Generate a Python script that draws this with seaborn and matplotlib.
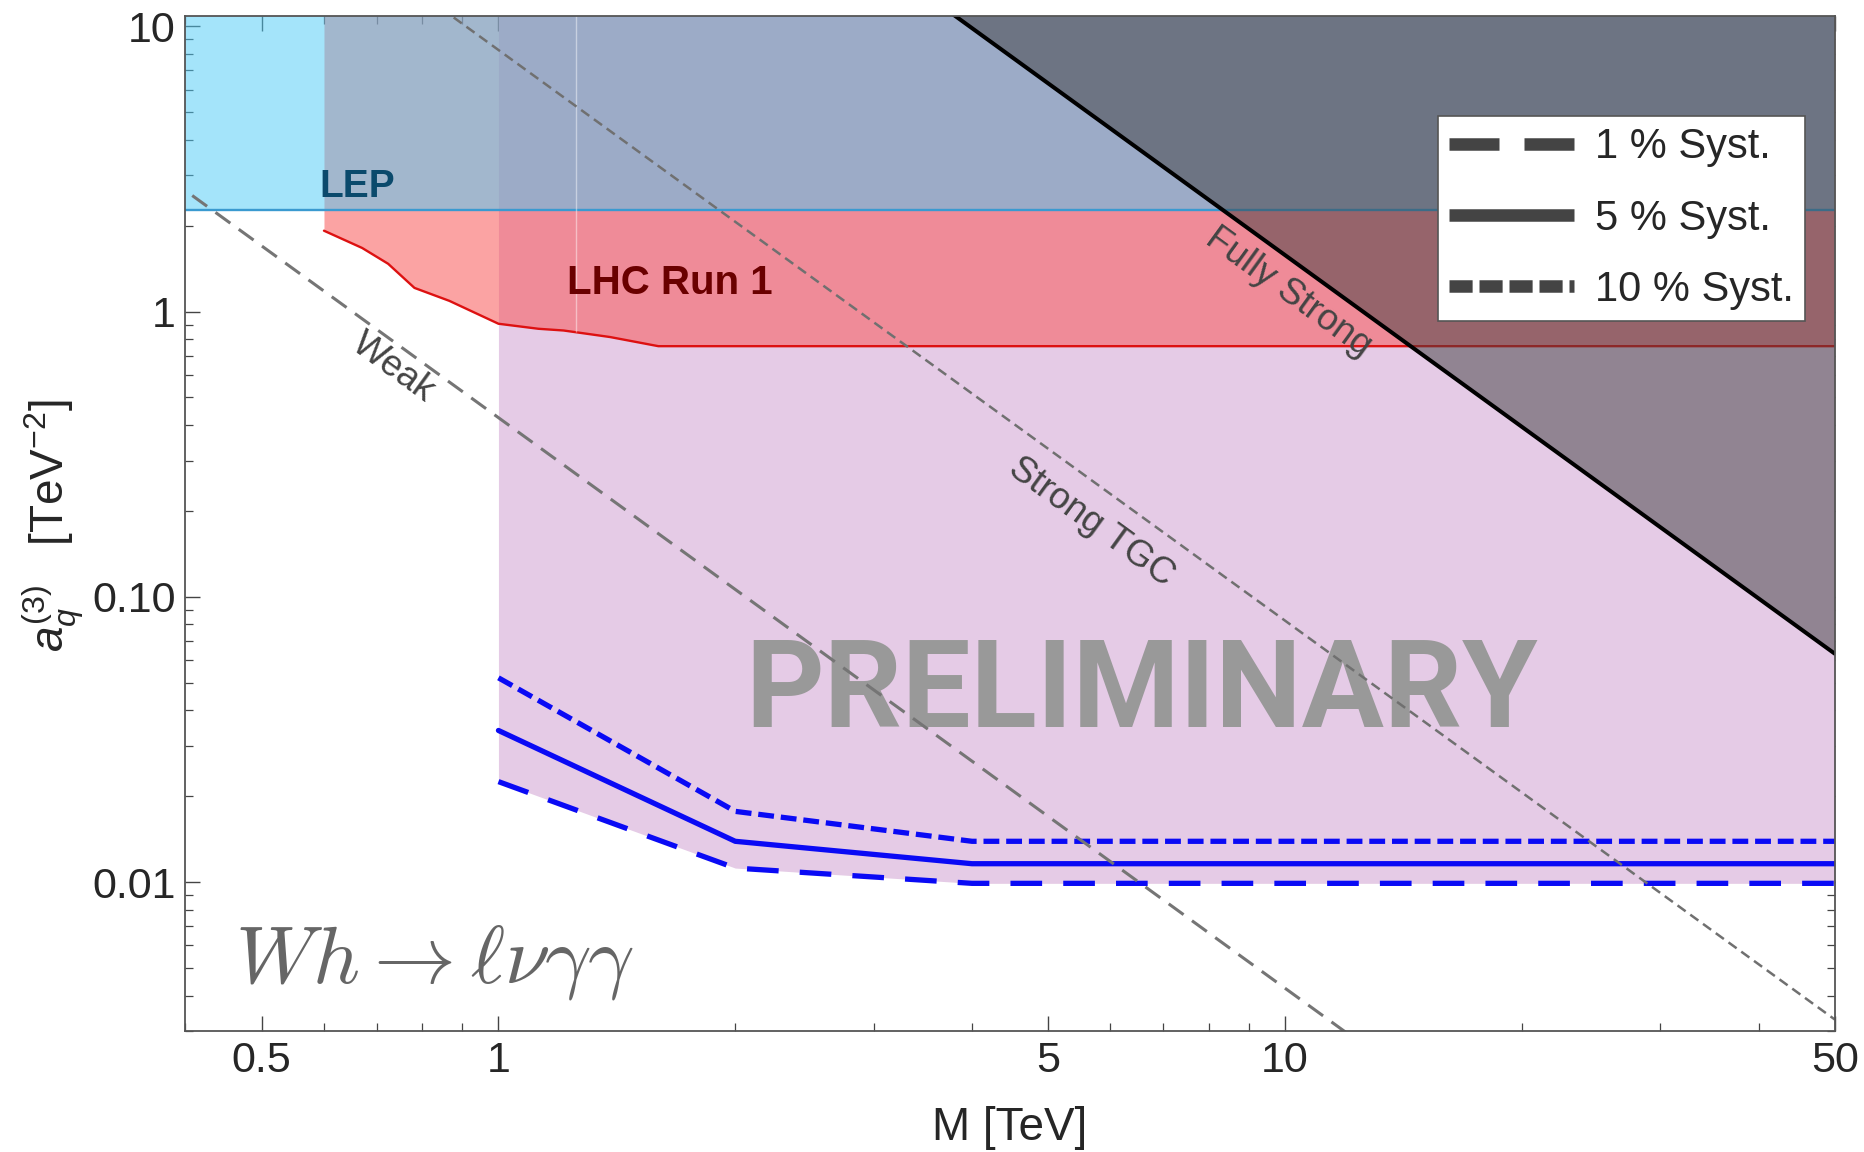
import numpy as np
import pandas as pd
import matplotlib
matplotlib.use("Agg")
import matplotlib.pyplot as plt
import seaborn as sns
from matplotlib.lines import Line2D
from matplotlib.ticker import FixedLocator, FixedFormatter, LogLocator, NullFormatter

# ---------------- data ----------------
x_limits = [0.4, 50]
y_limits = [0.003, 10.9]

x_ticks = [0.5, 1, 5, 10, 50]
x_ticklabels = ["0.5", "1", "5", "10", "50"]
y_ticks = [0.01, 0.1, 1, 10]
y_ticklabels = ["0.01", "0.10", "1", "10"]

# projected bounds (Wh -> l nu gamma gamma)
proj_M = [1, 2, 4, 50]
syst1_a = [0.0225, 0.0112, 0.0099, 0.0099]
syst5_a = [0.0340, 0.0139, 0.0116, 0.0116]
syst10_a = [0.0520, 0.0177, 0.0139, 0.0139]

# LHC Run 1 exclusion boundary
lhc_M = [0.6, 0.671, 0.724, 0.782, 0.866, 1.0, 1.124, 1.21, 1.386, 1.597, 50]
lhc_a = [1.92, 1.67, 1.47, 1.21, 1.09, 0.906, 0.87, 0.858, 0.814, 0.756, 0.756]
lhc_seam_M = [1.254]

# LEP exclusion
lep_M = [0.4, 50]
lep_a = [2.26, 2.26]

# theory lines
fully_strong_M = [3.0, 50]
fully_strong_a = [17.5, 0.0632]
strong_tgc_M = [0.8, 50]
strong_tgc_a = [12.9, 0.0033]
weak_M = [0.408, 12]
weak_a = [2.55, 0.00295]

legend_labels = ["1 % Syst.", "5 % Syst.", "10 % Syst."]
top_a = 30.0

# ---------------- style ----------------
sns.set_theme(style="ticks")
plt.rcParams["font.family"] = ["Liberation Sans", "DejaVu Sans"]
plt.rcParams["mathtext.fontset"] = "custom"
plt.rcParams["mathtext.rm"] = "Liberation Sans"
plt.rcParams["mathtext.it"] = "Liberation Sans:italic"
plt.rcParams["mathtext.bf"] = "Liberation Sans:bold"

fig = plt.figure(figsize=(18.64, 11.52), dpi=100)
ax = fig.add_axes([0.0995, 0.1048, 0.8848, 0.8817])
ax.set_xscale("log")
ax.set_yscale("log")
ax.set_xlim(*x_limits)
ax.set_ylim(*y_limits)

c_purple = "#e5cbe6"
c_lhc = (249/255, 86/255, 86/255)
c_lep = (75/255, 203/255, 247/255)
c_fs = (63/255, 63/255, 64/255)

# regions
ax.fill_between(proj_M, syst1_a, top_a, color=c_purple, lw=0, zorder=1)
ax.fill_between(lhc_M, lhc_a, top_a, color=c_lhc, alpha=0.54, lw=0, zorder=2)
sns.lineplot(x=lhc_M, y=lhc_a, ax=ax, color="#dd1111", lw=1.7, zorder=2.5, sort=False)
ax.fill_between(lep_M, lep_a, top_a, color=c_lep, alpha=0.5, lw=0, zorder=3)
sns.lineplot(x=lep_M, y=lep_a, ax=ax, color="#3a9ad0", lw=1.7, zorder=3.5)
seam_low = np.interp(lhc_seam_M[0], lhc_M, lhc_a)
ax.vlines(lhc_seam_M, seam_low, top_a, colors="white", lw=1.0, alpha=0.45, zorder=3.6)

# projected lines
sns.lineplot(x=proj_M, y=syst10_a, ax=ax, color="#0a0af5", lw=3.8,
             linestyle=(0, (3.0, 1.3)), zorder=3.7)
sns.lineplot(x=proj_M, y=syst5_a, ax=ax, color="#0a0af5", lw=3.8, zorder=3.7)
sns.lineplot(x=proj_M, y=syst1_a, ax=ax, color="#0a0af5", lw=3.8,
             linestyle=(0, (6.0, 4.0)), zorder=3.7)

# watermark
ax.text(6.58, 0.0351, "PRELIMINARY", fontsize=88, fontweight="bold",
        family=["Roboto", "DejaVu Sans"], color="#999999",
        ha="center", va="baseline", zorder=3.8)

# theory lines
sns.lineplot(x=weak_M, y=weak_a, ax=ax, color="#757575", lw=2.2,
             linestyle=(0, (6.0, 3.4)), zorder=4)
sns.lineplot(x=strong_tgc_M, y=strong_tgc_a, ax=ax, color="#707070", lw=1.8,
             linestyle=(0, (4.0, 2.3)), zorder=4)
ax.fill_between(fully_strong_M, fully_strong_a, top_a, color=c_fs, alpha=0.5, lw=0, zorder=5)
sns.lineplot(x=fully_strong_M, y=fully_strong_a, ax=ax, color="black", lw=2.9, zorder=6)


def screen_angle(xs, ys):
    p = ax.transData.transform(np.column_stack([xs, ys]))
    d = p[-1] - p[0]
    return np.degrees(np.arctan2(d[1], d[0]))


ang = screen_angle(fully_strong_M, fully_strong_a)
ax.text(10.1, 1.17, "Fully Strong", rotation=ang, rotation_mode="anchor",
        ha="center", va="center", fontsize=26.5, color="#444444", zorder=7)
ax.text(5.67, 0.183, "Strong TGC", rotation=ang, rotation_mode="anchor",
        ha="center", va="center", fontsize=26.5, color="#444444", zorder=7)
ax.text(0.734, 0.637, "Weak", rotation=ang, rotation_mode="anchor",
        ha="center", va="center", fontsize=26.5, color="#444444", zorder=7)

ax.text(0.592, 2.517, "LEP", fontsize=28, fontweight="bold", color="#0b4a6c",
        ha="left", va="baseline", zorder=7)
ax.text(1.223, 1.153, "LHC Run 1", fontsize=29, fontweight="bold", color="#6a0000",
        ha="left", va="baseline", zorder=7)
ax.text(0.462, 0.00444, r"$Wh \rightarrow \ell\nu\gamma\gamma$", fontsize=59,
        color="#666666", math_fontfamily="cm", ha="left", va="baseline", zorder=7)

# axes / ticks
ax.xaxis.set_major_locator(FixedLocator(x_ticks))
ax.xaxis.set_major_formatter(FixedFormatter(x_ticklabels))
ax.xaxis.set_minor_locator(LogLocator(base=10, subs=np.arange(2, 10)))
ax.xaxis.set_minor_formatter(NullFormatter())
ax.yaxis.set_major_locator(FixedLocator(y_ticks))
ax.yaxis.set_major_formatter(FixedFormatter(y_ticklabels))
ax.yaxis.set_minor_locator(LogLocator(base=10, subs=np.arange(2, 10)))
ax.yaxis.set_minor_formatter(NullFormatter())
ax.tick_params(which="both", direction="in", top=True, right=True, color="#444444")
ax.tick_params(which="major", length=11, width=1.0, labelsize=31, pad=7)
ax.tick_params(which="minor", length=6, width=0.9)
for s in ax.spines.values():
    s.set_color("#555555")
    s.set_linewidth(1.3)
    s.set_zorder(8)

ax.set_xlabel("M [TeV]", fontsize=33, labelpad=18)
ax.set_ylabel(r"$a_q^{(3)}$   [TeV$^{-2}$]", fontsize=33)
ax.yaxis.label.set_va("center")
ax.yaxis.set_label_coords(-0.0803, 0.498)

handles = [
    Line2D([], [], color="#444444", lw=9, linestyle=(0, (4.0, 2.0)), solid_capstyle="butt", dash_capstyle="butt"),
    Line2D([], [], color="#444444", lw=9, solid_capstyle="butt"),
    Line2D([], [], color="#444444", lw=9, linestyle=(0, (1.85, 0.55)), solid_capstyle="butt", dash_capstyle="butt"),
]
leg = ax.legend(handles, legend_labels, loc="upper right", bbox_to_anchor=(0.982, 0.901),
                fontsize=30, frameon=True, fancybox=False, framealpha=1, edgecolor="#555555",
                handlelength=3.0, handletextpad=0.5, labelspacing=0.75, borderpad=0.27,
                borderaxespad=0)
leg.get_frame().set_linewidth(1.2)
leg.set_zorder(9)

fig.savefig("out.png", dpi=100)
